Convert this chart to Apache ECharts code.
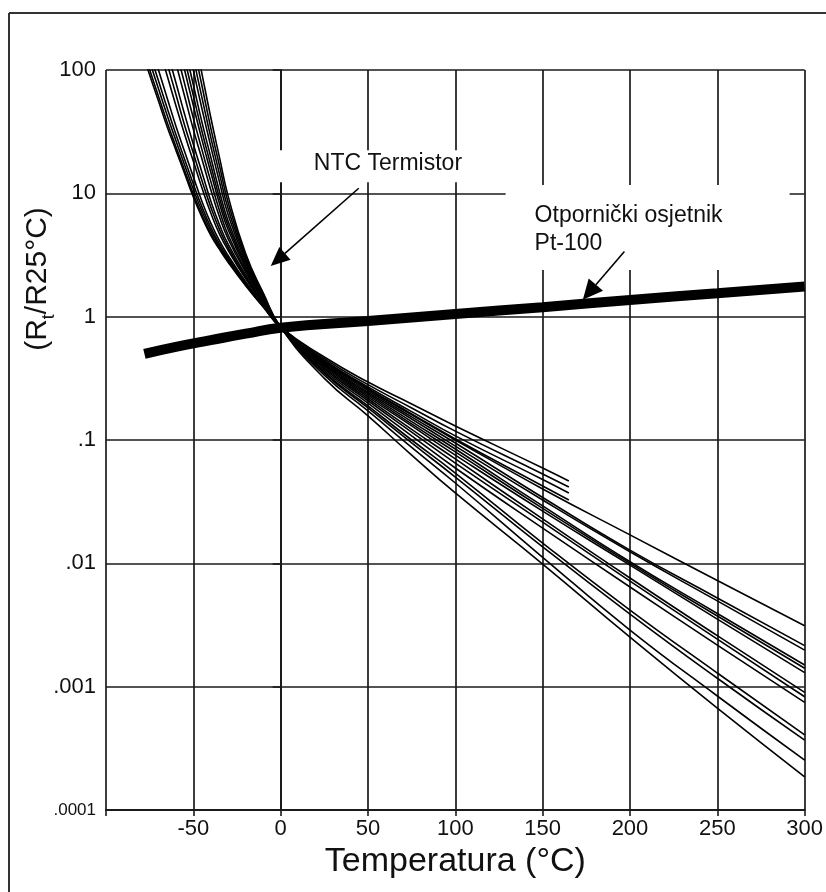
<!DOCTYPE html>
<html>
<head>
<meta charset="utf-8">
<title>NTC / Pt-100</title>
<script src="https://cdn.jsdelivr.net/npm/echarts@6/dist/echarts.min.js"></script>
<style>
html, body { margin: 0; padding: 0; background: #fff; }
#chart { width: 826px; height: 892px; }
</style>
</head>
<body>
<div id="chart"></div>
<script>
// temperature points (°C) the curves were read at
const temps = [-85, -80, -75, -70, -65, -60, -55, -50, -45, -40, -35, -30, -20, -10, 0, 25, 50, 75, 100, 150, 200, 250, 300]
const tempsShort = [-85, -80, -75, -70, -65, -60, -55, -50, -45, -40, -35, -30, -20, -10, 0, 25, 50, 75, 100, 150, 165]

// NTC curves, Rt/R25 (null = far above the top of the chart)
// the four short ones stop at about 165 °C
const ntc01 = [245, 148, 91.2, 56.2, 34.7, 22.4, 14.5, 9.33, 6.38, 4.57, 3.51, 2.75, 1.78, 1.20, 0.822, 0.471, 0.295, 0.196, 0.130, 0.0593, 0.0465]
const ntc02 = [277, 164, 100.5, 61.5, 37.7, 24.0, 15.4, 9.89, 6.67, 4.73, 3.60, 2.81, 1.80, 1.21, 0.822, 0.457, 0.281, 0.182, 0.118, 0.0530, 0.0416]
const ntc03 = [null, 195, 117, 70.8, 43.0, 26.8, 17.0, 10.8, 7.16, 5.00, 3.73, 2.89, 1.83, 1.22, 0.822, 0.444, 0.269, 0.170, 0.108, 0.0479, 0.0372]
const ntc04 = [null, 233, 137, 82.2, 49.3, 30.1, 18.9, 11.9, 7.73, 5.31, 3.89, 2.99, 1.87, 1.23, 0.822, 0.437, 0.261, 0.163, 0.102, 0.0424, 0.0326]
// long ones, up to 300 °C
const ntc05 = [null, 299, 171, 100.5, 59.4, 35.2, 21.8, 13.6, 8.55, 5.74, 4.11, 3.12, 1.92, 1.24, 0.822, 0.433, 0.259, 0.160, 0.100, 0.0401, 0.0170, 0.00726, 0.00312]
const ntc06 = [null, null, 284, 158, 90.2, 51.6, 30.1, 18.2, 11.0, 6.93, 4.67, 3.44, 2.03, 1.28, 0.822, 0.426, 0.252, 0.154, 0.0946, 0.0342, 0.0128, 0.00524, 0.00215]
const ntc07 = [null, null, null, 203, 113, 63.5, 35.7, 21.2, 12.6, 7.73, 5.08, 3.62, 2.09, 1.29, 0.822, 0.418, 0.244, 0.148, 0.0893, 0.0326, 0.0124, 0.00496, 0.00198]
const ntc08 = [null, null, null, 267, 143, 79.1, 43.8, 25.0, 14.7, 8.67, 5.55, 3.85, 2.17, 1.31, 0.822, 0.411, 0.238, 0.141, 0.0845, 0.0292, 0.0103, 0.00392, 0.00150]
const ntc09 = [null, null, null, null, 216, 114, 61.2, 33.0, 18.8, 10.7, 6.43, 4.26, 2.29, 1.35, 0.822, 0.404, 0.231, 0.135, 0.0800, 0.0279, 0.0100, 0.00374, 0.00141]
const ntc10 = [null, null, null, null, 293, 148, 77.6, 40.7, 22.4, 12.5, 7.24, 4.57, 2.38, 1.37, 0.822, 0.397, 0.224, 0.130, 0.0755, 0.0265, 0.00968, 0.00353, 0.00130]
const ntc11 = [null, null, null, null, 407, 198, 100, 51.4, 27.0, 14.8, 8.22, 5.04, 2.48, 1.40, 0.822, 0.387, 0.216, 0.122, 0.0702, 0.0229, 0.0076, 0.00259, 0.00090]
const ntc12 = [null, null, null, null, null, 252, 123, 62.1, 31.6, 16.9, 9.14, 5.45, 2.57, 1.42, 0.822, 0.378, 0.208, 0.116, 0.0650, 0.0216, 0.00718, 0.00243, 0.000828]
const ntc13 = [null, null, null, null, null, 327, 154, 75.9, 37.4, 19.6, 10.3, 5.92, 2.67, 1.44, 0.822, 0.366, 0.199, 0.108, 0.0593, 0.0193, 0.00643, 0.00217, 0.000746]
const ntc14 = [null, null, null, null, null, 475, 213, 100, 48.1, 24.0, 12.3, 6.67, 2.81, 1.47, 0.822, 0.356, 0.189, 0.100, 0.0540, 0.0146, 0.00418, 0.00129, 0.000406]
const ntc15 = [null, null, null, null, null, null, 279, 126, 59.2, 28.4, 14.3, 7.45, 2.94, 1.50, 0.822, 0.348, 0.182, 0.0948, 0.0501, 0.0136, 0.00388, 0.00117, 0.000369]
const ntc16 = [null, null, null, null, null, null, 375, 162, 73.8, 33.8, 16.7, 8.36, 3.09, 1.53, 0.822, 0.336, 0.172, 0.0871, 0.0448, 0.0112, 0.00288, 0.00084, 0.000254]
const ntc17 = [null, null, null, null, null, null, 509, 210, 92.3, 41.2, 19.5, 9.40, 3.24, 1.56, 0.822, 0.316, 0.157, 0.0755, 0.0372, 0.00986, 0.00252, 0.00067, 0.000186]

// Pt-100 resistor
const ptTemps = [-78, -60, -40, -20, 0, 50, 100, 150, 200, 250, 300]
const ptValues = [0.50, 0.57, 0.645, 0.728, 0.813, 0.923, 1.052, 1.194, 1.365, 1.549, 1.758]

// y tick labels, from 10^2 down to 10^-4
const yTickLabels = ['100', '10', '1', '.1', '.01', '.001', '.0001']

// annotation anchors in data units [°C, Rt/R25]
const ntcLabelAt = [19, 17.5]
const ntcArrow = [[44.7, 11.0], [-5.7, 2.58]]
const ptLabelAt = [145.4, 6.56]
const ptArrow = [[196.8, 3.37], [173, 1.37]]

const font = '"Liberation Sans", Arial, Helvetica, sans-serif'
const ink = '#111'
const gridInk = '#1a1a1a'

function pairs (ts, vs) {
  return ts.map((t, i) => [t, vs[i]]).filter(p => p[1] != null)
}

function ntcSeries (ts, vs) {
  return {
    type: 'line',
    data: pairs(ts, vs),
    symbol: 'none',
    smooth: 0.5,
    silent: true,
    lineStyle: { color: '#000', width: 1.6 },
    z: 3
  }
}

let series = []
;[ntc01, ntc02, ntc03, ntc04].forEach(v => series.push(ntcSeries(tempsShort, v)))
;[ntc05, ntc06, ntc07, ntc08, ntc09, ntc10, ntc11, ntc12, ntc13, ntc14, ntc15, ntc16, ntc17].forEach(v => series.push(ntcSeries(temps, v)))
series.push({
  type: 'line',
  data: pairs(ptTemps, ptValues),
  symbol: 'none',
  smooth: 0.5,
  silent: true,
  lineStyle: { color: '#000', width: 10, cap: 'butt' },
  z: 4
})

let chart = echarts.init(document.getElementById('chart'))
chart.setOption({
  animation: false,
  backgroundColor: '#fff',
  grid: { left: 106, right: 18, top: 70, bottom: 82 },
  xAxis: {
    type: 'value',
    min: -100,
    max: 300,
    interval: 50,
    name: 'Temperatura (°C)',
    nameLocation: 'middle',
    nameGap: 29,
    nameTextStyle: { fontSize: 34, color: ink, fontFamily: font },
    axisLine: { show: true, onZero: false, lineStyle: { color: gridInk, width: 2 } },
    axisTick: { show: true, length: 6, lineStyle: { color: gridInk, width: 1.6 } },
    axisLabel: {
      margin: 8,
      fontSize: 22,
      color: ink,
      fontFamily: font,
      showMinLabel: true,
      showMaxLabel: true,
      formatter: v => (v === -100 ? '' : String(v))
    },
    splitLine: { show: true, lineStyle: { color: gridInk, width: 1.7 } }
  },
  yAxis: {
    type: 'log',
    logBase: 10,
    min: 0.0001,
    max: 100,
    splitNumber: 6,
    axisLine: { show: true, lineStyle: { color: gridInk, width: 2 } },
    axisTick: { show: true, length: 8, lineStyle: { color: gridInk, width: 1.6 } },
    minorTick: { show: false },
    axisLabel: {
      margin: 10,
      fontSize: 22,
      color: ink,
      fontFamily: font,
      showMinLabel: true,
      showMaxLabel: true,
      formatter: v => {
        let e = Math.round(Math.log10(v))
        let s = yTickLabels[2 - e]
        return e === -4 ? '{s|' + s + '}' : s
      },
      rich: { s: { fontSize: 17, color: ink, fontFamily: font } }
    },
    splitLine: { show: true, lineStyle: { color: gridInk, width: 1.7 } }
  },
  series: series
})

// annotations: labels on white boxes, arrows, y title, page frame
function px (p) { return chart.convertToPixel({ gridIndex: 0 }, p) }

function arrow (from, to, head, w) {
  let a = px(from)
  let b = px(to)
  let dx = b[0] - a[0]
  let dy = b[1] - a[1]
  let len = Math.sqrt(dx * dx + dy * dy)
  let ux = dx / len
  let uy = dy / len
  let bx = b[0] - ux * head
  let by = b[1] - uy * head
  return [
    { type: 'line', z: 100, shape: { x1: a[0], y1: a[1], x2: bx, y2: by }, style: { stroke: '#000', lineWidth: 1.6 } },
    {
      type: 'polygon',
      z: 100,
      shape: { points: [[b[0], b[1]], [bx - uy * w / 2, by + ux * w / 2], [bx + uy * w / 2, by - ux * w / 2]] },
      style: { fill: '#000' }
    }
  ]
}

let n = px(ntcLabelAt)
let p = px(ptLabelAt)
let graphic = [
  // page frame (left and top edges)
  { type: 'line', z: 100, shape: { x1: 9, y1: 13, x2: 9, y2: 892 }, style: { stroke: '#333', lineWidth: 2 } },
  { type: 'line', z: 100, shape: { x1: 9, y1: 13, x2: 826, y2: 13 }, style: { stroke: '#333', lineWidth: 2 } },
  // label boxes hide the grid behind the text
  { type: 'rect', z: 99, shape: { x: n[0] - 38, y: n[1] - 13, width: 199, height: 32 }, style: { fill: '#fff' } },
  { type: 'text', z: 100, x: n[0], y: n[1], style: { text: 'NTC Termistor', font: '23px ' + font, fill: ink, align: 'left', verticalAlign: 'middle' } },
  { type: 'rect', z: 99, shape: { x: p[0] - 29, y: p[1] - 31, width: 284, height: 85 }, style: { fill: '#fff' } },
  { type: 'text', z: 100, x: p[0], y: p[1], style: { text: 'Otpornički osjetnik', font: '23px ' + font, fill: ink, align: 'left', verticalAlign: 'middle' } },
  { type: 'text', z: 100, x: p[0], y: p[1] + 28, style: { text: 'Pt-100', font: '23px ' + font, fill: ink, align: 'left', verticalAlign: 'middle' } },
  // y axis title, rotated, with subscript t
  {
    type: 'text',
    z: 100,
    x: 38,
    y: 279,
    rotation: Math.PI / 2,
    style: {
      text: '{m|(R}{sub|t}{m|/R25°C)}',
      align: 'center',
      verticalAlign: 'middle',
      fill: ink,
      rich: {
        m: { fontSize: 30, lineHeight: 40, fontFamily: font, fill: ink, verticalAlign: 'middle' },
        sub: { fontSize: 18, lineHeight: 18, fontFamily: font, fill: ink, verticalAlign: 'bottom' }
      }
    }
  }
]
graphic = graphic.concat(arrow(ntcArrow[0], ntcArrow[1], 19, 17))
graphic = graphic.concat(arrow(ptArrow[0], ptArrow[1], 20, 19))
chart.setOption({ graphic: graphic })
</script>
</body>
</html>
